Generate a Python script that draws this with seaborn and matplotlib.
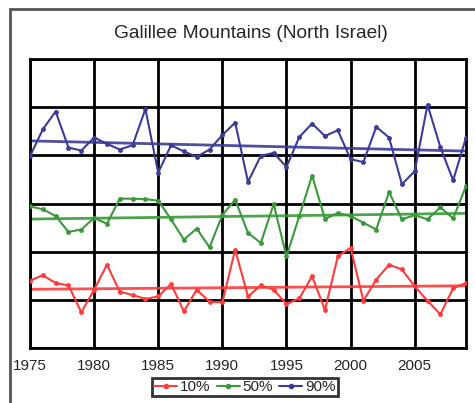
import numpy as np
import pandas as pd
import matplotlib
matplotlib.use("Agg")
import matplotlib.pyplot as plt
import seaborn as sns
from matplotlib.patches import Rectangle

years = list(range(1975, 2010))
p10 = [1.40, 1.51, 1.35, 1.30, 0.74, 1.21, 1.73, 1.17, 1.10, 1.02, 1.07, 1.33,
       0.76, 1.21, 0.96, 0.95, 2.04, 1.07, 1.30, 1.21, 0.91, 1.03, 1.49, 0.79,
       1.90, 2.08, 0.98, 1.42, 1.73, 1.63, 1.28, 0.98, 0.70, 1.24, 1.35]
p50 = [2.94, 2.88, 2.74, 2.41, 2.46, 2.70, 2.58, 3.10, 3.10, 3.09, 3.06, 2.67,
       2.25, 2.48, 2.09, 2.76, 3.08, 2.39, 2.18, 2.99, 1.90, 2.74, 3.58, 2.68,
       2.80, 2.74, 2.60, 2.46, 3.24, 2.67, 2.76, 2.67, 2.92, 2.69, 3.36]
p90 = [3.98, 4.54, 4.91, 4.16, 4.10, 4.37, 4.24, 4.12, 4.21, 4.96, 3.64, 4.21,
       4.08, 3.97, 4.12, 4.42, 4.68, 3.45, 3.99, 4.05, 3.76, 4.38, 4.66, 4.40,
       4.52, 3.92, 3.86, 4.59, 4.37, 3.40, 3.67, 5.05, 4.17, 3.48, 4.37]
series_labels = ["10%", "50%", "90%"]
colors = ["#ff3b3b", "#3a9a3a", "#3c3c98"]
xticks = [1975, 1980, 1985, 1990, 1995, 2000, 2005]
title = "Galillee Mountains (North Israel)"

sns.set_style("white")
plt.rcParams['font.family'] = ['Liberation Sans', 'DejaVu Sans']

fig = plt.figure(figsize=(4.75, 4.03), dpi=100)
# outer frame
fig.patches.append(Rectangle((10/475, -0.05), 1.2, 1 - 9/403 + 0.05,
                             transform=fig.transFigure, fill=False,
                             edgecolor="#555555", linewidth=2, zorder=0))

ax = fig.add_axes([30/475, 1 - 348/403, 436/475, 289/403])

df = pd.DataFrame({"year": years * 3,
                   "value": p10 + p50 + p90,
                   "series": sum([[s] * len(years) for s in series_labels], [])})

pal = dict(zip(series_labels, colors))
sns.lineplot(data=df, x="year", y="value", hue="series", palette=pal, ax=ax,
             marker="o", markersize=3.5, markeredgewidth=0, linewidth=1.5,
             legend=False, zorder=3)
for vals, c in zip([p10, p50, p90], colors):
    sns.regplot(x=years, y=vals, scatter=False, ci=None, truncate=True, color=c,
                ax=ax, line_kws={"linewidth": 2.0, "alpha": 0.9, "zorder": 2})

ax.set_xlim(1975, 2009)
ax.set_ylim(0, 6)
ax.set_xticks(xticks)
ax.set_yticks(range(0, 7))
ax.set_yticklabels([])
ax.set_xlabel("")
ax.set_ylabel("")
ax.grid(True, color="black", linewidth=2)
ax.set_axisbelow(True)
for s in ax.spines.values():
    s.set_color("black")
    s.set_linewidth(2)
ax.tick_params(axis="x", direction="out", length=5, width=2, color="black",
               labelsize=11, pad=3)
ax.tick_params(axis="y", length=0)

fig.text(251/475, 1 - 33/403, title, ha="center", va="center", fontsize=13.8)

handles = [plt.Line2D([], [], color=c, marker="o", markersize=3, linewidth=1.5)
           for c in colors]
fig.legend(handles, series_labels, loc="center", bbox_to_anchor=(245/475, 1 - 387/403),
           ncol=3, fontsize=11, frameon=True, fancybox=False, edgecolor="black",
           handlelength=1.5, handletextpad=0.2, columnspacing=0.4, borderpad=0.15,
           borderaxespad=0)
leg = fig.legends[0]
leg.get_frame().set_linewidth(2)

fig.savefig("out.png", dpi=100)
